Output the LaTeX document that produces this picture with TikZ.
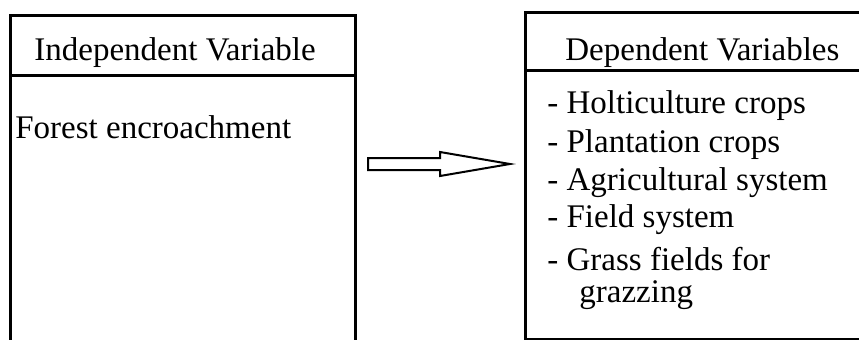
\documentclass[tikz,border=0pt]{standalone}
\usepackage{fontspec}
\setmainfont{Liberation Serif}

\tikzset{
    box/.style={draw, line width=1.5pt},
    blockarrow/.style={draw, line width=1pt, line join=miter, fill=white}
}

\begin{document}
\begin{tikzpicture}[x=0.5pt, y=-0.5pt]
    \useasboundingbox (0,0) rectangle (859,339);
    \clip (0,0) rectangle (859,339);

    % boxes, both run past the edge of the picture
    \draw[box] (10,15) rectangle (355,380);
    \draw[box] (10,75) -- (355,75);
    \draw[box] (525,12) rectangle (900,339.8);
    \draw[box] (525,70) -- (900,70);

    \begin{scope}[
            every node/.style={inner sep=0pt, anchor=base west,
                font=\fontsize{16.5}{20}\selectfont}
        ]

        \node (indep) at (34,60) {Independent Variable};
        \node (forest) at (15,138) {Forest encroachment};

        \node (dep) at (565,60) {Dependent Variables};
        \node (horti) at (547,113) {- Holticulture crops};
        \node (plant) at (547,152) {- Plantation crops};
        \node (agri) at (547,190) {- Agricultural system};
        \node (field) at (547,227) {- Field system};
        \node (grass) at (547,270) {- Grass fields for};
        \node (grazz) at (579,302) {grazzing};
    \end{scope}

    \coordinate (tail) at (368,164);
    \coordinate (tip) at (510,164);

    \draw[blockarrow] (tail) ++(0,-6) -- ++(72,0) -- ++(0,-6)
        -- (tip) -- ++(-70,12) -- ++(0,-6) -- ++(-72,0) -- cycle;
\end{tikzpicture}
\end{document}
